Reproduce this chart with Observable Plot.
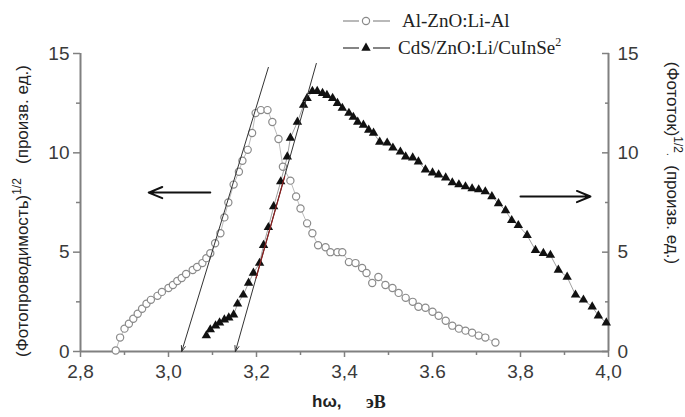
<!DOCTYPE html>
<html><head><meta charset="utf-8">
<script src="https://cdn.jsdelivr.net/npm/d3@7"></script>
<script src="https://cdn.jsdelivr.net/npm/@observablehq/plot@0.6"></script>
<style>body{margin:0;background:#fff}#chart{width:685px;height:417px}</style>
</head><body><div id="chart"></div>
<script>
// Series 1: Al-ZnO:Li-Al (open circles, left axis)
const circX = [2.88,2.89,2.90,2.91,2.92,2.93,2.94,2.95,2.96,2.975,2.985,3.0,3.01,3.02,3.03,3.04,3.055,3.065,3.077,3.086,3.095,3.106,3.118,3.127,3.136,3.148,3.16,3.168,3.18,3.19,3.198,3.21,3.225,3.236,3.25,3.26,3.277,3.29,3.30,3.315,3.327,3.34,3.357,3.368,3.384,3.395,3.41,3.425,3.44,3.45,3.463,3.477,3.493,3.509,3.523,3.539,3.555,3.568,3.584,3.6,3.614,3.63,3.645,3.66,3.675,3.69,3.705,3.72,3.743];
const circY = [0.05,0.7,1.15,1.4,1.65,1.9,2.15,2.4,2.6,2.8,3.0,3.2,3.35,3.55,3.7,3.9,4.1,4.25,4.45,4.7,4.95,5.45,5.95,6.75,7.5,8.4,9.05,9.6,10.15,11.0,12.0,12.15,12.15,11.55,10.7,9.3,8.6,7.8,7.2,6.45,5.95,5.35,5.25,5.0,5.0,5.0,4.5,4.45,4.2,3.95,3.45,3.75,3.35,3.2,2.95,2.7,2.5,2.25,2.2,2.0,1.8,1.55,1.3,1.15,1.05,0.95,0.8,0.7,0.45];
// Series 2: CdS/ZnO:Li/CuInSe2 (filled triangles, right axis, same 0-15 range)
const triX = [3.086,3.095,3.107,3.116,3.127,3.137,3.148,3.157,3.17,3.182,3.193,3.207,3.216,3.227,3.239,3.255,3.27,3.277,3.293,3.307,3.315,3.327,3.338,3.35,3.36,3.373,3.384,3.395,3.41,3.42,3.43,3.443,3.455,3.466,3.48,3.497,3.51,3.527,3.539,3.555,3.568,3.584,3.6,3.614,3.63,3.645,3.66,3.675,3.69,3.705,3.72,3.735,3.75,3.766,3.78,3.795,3.815,3.834,3.852,3.868,3.886,3.906,3.925,3.943,3.963,3.977,3.995];
const triY = [0.8,1.1,1.3,1.45,1.6,1.7,1.85,2.4,2.85,3.45,3.95,4.45,5.35,6.25,7.3,8.55,9.8,10.75,11.55,12.4,12.75,13.1,13.1,13.0,12.9,12.75,12.5,12.25,12.0,11.8,11.55,11.4,11.15,11.0,10.55,10.5,10.25,10.05,9.8,9.75,9.55,9.15,9.0,8.9,8.75,8.5,8.4,8.3,8.2,8.15,8.05,7.8,7.45,7.1,6.6,6.35,5.85,5.1,4.95,4.85,4.1,3.75,2.85,2.6,2.25,1.8,1.45];
// Tangent (extrapolation) lines with arrow heads at the band-gap values
const fitX1 = [3.227, 3.336], fitY1 = [14.3, 14.5], fitX2 = [3.03, 3.152], fitY2 = [0, 0];
const redX = [3.199, 3.264], redY = [3.7, 8.8];
// Direction arrows (which axis each curve belongs to)
const ptrX1 = [3.095, 3.80], ptrX2 = [2.955, 3.959], ptrY = [8.0, 7.8];
// Ticks
const xTicks = [2.8, 3.0, 3.2, 3.4, 3.6, 3.8, 4.0];
const xTickLabels = ["2,8", "3,0", "3,2", "3,4", "3.6", "3,8", "4,0"];
const xMinor = [2.9, 3.1, 3.3, 3.5, 3.7, 3.9];
const yTicks = [0, 5, 10, 15];
const yMinor = [2.5, 7.5, 12.5];

const axisColor = "#808080";
const circles = circX.map((x, i) => ({x, y: circY[i]}));
const tris = triX.map((x, i) => ({x, y: triY[i]}));
const fits = fitX1.map((x, i) => ({x1: x, y1: fitY1[i], x2: fitX2[i], y2: fitY2[i]}));
const ptrs = ptrX1.map((x, i) => ({x1: x, x2: ptrX2[i], y: ptrY[i]}));

const plot = Plot.plot({
  width: 685, height: 417,
  marginLeft: 80, marginRight: 77, marginTop: 53, marginBottom: 66,
  x: {domain: [2.8, 4.0]},
  y: {domain: [0, 15]},
  style: {fontFamily: "'Liberation Sans', Arial, sans-serif", fontSize: "19px", color: "#3a3a3a", background: "#fff"},
  marks: [
    Plot.axisX(xTicks, {tickFormat: (d, i) => xTickLabels[i], tickSize: 6, tickPadding: 7, stroke: axisColor, strokeWidth: 1.5, label: null}),
    Plot.axisX(xMinor, {tickSize: 4, text: null, stroke: axisColor, strokeWidth: 1.5, label: null}),
    Plot.axisY(yTicks, {anchor: "left", tickSize: 7, tickPadding: 4, stroke: axisColor, strokeWidth: 1.5, label: null}),
    Plot.axisY(yMinor, {anchor: "left", tickSize: 4, text: null, stroke: axisColor, strokeWidth: 1.5, label: null}),
    Plot.axisY(yTicks, {anchor: "right", tickSize: 0, tickPadding: 9, label: null}),
    Plot.axisY(yTicks, {anchor: "right", tickSize: 7, dx: -7, text: null, stroke: axisColor, strokeWidth: 1.5, label: null}),
    Plot.axisY(yMinor, {anchor: "right", tickSize: 4, dx: -4, text: null, stroke: axisColor, strokeWidth: 1.5, label: null}),
    Plot.ruleY([0], {stroke: axisColor, strokeWidth: 2}),
    Plot.ruleX([2.8, 4.0], {stroke: axisColor, strokeWidth: 2}),
    Plot.line(circles, {x: "x", y: "y", stroke: "#aaa", strokeWidth: 0.8}),
    Plot.dot(circles, {x: "x", y: "y", r: 3.6, stroke: "#8a8a8a", strokeWidth: 1.2, fill: "white"}),
    Plot.line(tris, {x: "x", y: "y", stroke: "#888", strokeWidth: 0.8}),
    Plot.dot(tris, {x: "x", y: "y", r: 3.5, symbol: "triangle", fill: "#111", stroke: "none"}),
    Plot.arrow(fits, {x1: "x1", y1: "y1", x2: "x2", y2: "y2", stroke: "#333", strokeWidth: 1, headLength: 9, headAngle: 40}),
    Plot.line(redX.map((x, i) => ({x, y: redY[i]})), {x: "x", y: "y", stroke: "#8b1e1e", strokeWidth: 1.2}),
    Plot.arrow(ptrs, {x1: "x1", y1: "y", x2: "x2", y2: "y", stroke: "#111", strokeWidth: 2, headLength: 11, headAngle: 45})
  ]
});

const svg = d3.select(plot);
const sans = "'Liberation Sans', Arial, sans-serif";
const serif = "'Liberation Serif', 'Times New Roman', serif";

// Left axis label
const lt = svg.append("text").attr("transform", "translate(28,211) rotate(-90)")
  .attr("text-anchor", "middle").attr("font-family", sans).attr("font-size", 17).attr("fill", "#222")
  .attr("xml:space", "preserve");
lt.append("tspan").text("(Фотопроводимость)");
lt.append("tspan").attr("dy", -7).attr("font-size", 12).text("1/2");
lt.append("tspan").attr("dy", 7).text("   (произв. ед.)");

// Right axis label
const rt = svg.append("text").attr("transform", "translate(667,163) rotate(90)")
  .attr("text-anchor", "middle").attr("font-family", sans).attr("font-size", 17).attr("fill", "#222")
  .attr("xml:space", "preserve");
rt.append("tspan").text("(Фототок)");
rt.append("tspan").attr("dy", -7).attr("font-size", 12).text("1/2");
rt.append("tspan").attr("dy", 7).attr("font-size", 10).text(".");
rt.append("tspan").text("  (произв. ед.)");

// X axis label
svg.append("text").attr("x", 312).attr("y", 407).attr("text-anchor", "start")
  .attr("font-weight", "bold").attr("font-size", 17).attr("fill", "#222").attr("font-family", sans).text("hω,");
svg.append("text").attr("x", 366).attr("y", 408).attr("text-anchor", "start")
  .attr("font-weight", "bold").attr("font-size", 18).attr("fill", "#222").attr("font-family", serif).text("эВ");

// Legend
const lg = svg.append("g").attr("text-anchor", "start");
[[343, 359], [373, 390]].forEach(([a, b]) => {
  lg.append("line").attr("x1", a).attr("x2", b).attr("y1", 21).attr("y2", 21).attr("stroke", "#8a8a8a").attr("stroke-width", 1.2);
  lg.append("line").attr("x1", a).attr("x2", b).attr("y1", 48).attr("y2", 48).attr("stroke", "#333").attr("stroke-width", 1.2);
});
lg.append("circle").attr("cx", 366).attr("cy", 21).attr("r", 3.6).attr("fill", "white").attr("stroke", "#8a8a8a").attr("stroke-width", 1.2);
lg.append("text").attr("x", 402).attr("y", 27).attr("text-anchor", "start").attr("font-family", serif).attr("font-size", 19).attr("fill", "#222").text("Al-ZnO:Li-Al");
lg.append("path").attr("d", d3.symbol(d3.symbolTriangle, 38)()).attr("transform", "translate(366,48)").attr("fill", "#111");
const l2 = lg.append("text").attr("x", 398).attr("y", 54).attr("text-anchor", "start").attr("font-family", serif).attr("font-size", 19).attr("fill", "#222");
l2.append("tspan").text("CdS/ZnO:Li/CuInSe");
l2.append("tspan").attr("dy", -8).attr("font-size", 12).text("2");

document.getElementById("chart").append(plot);
</script>
</body></html>
